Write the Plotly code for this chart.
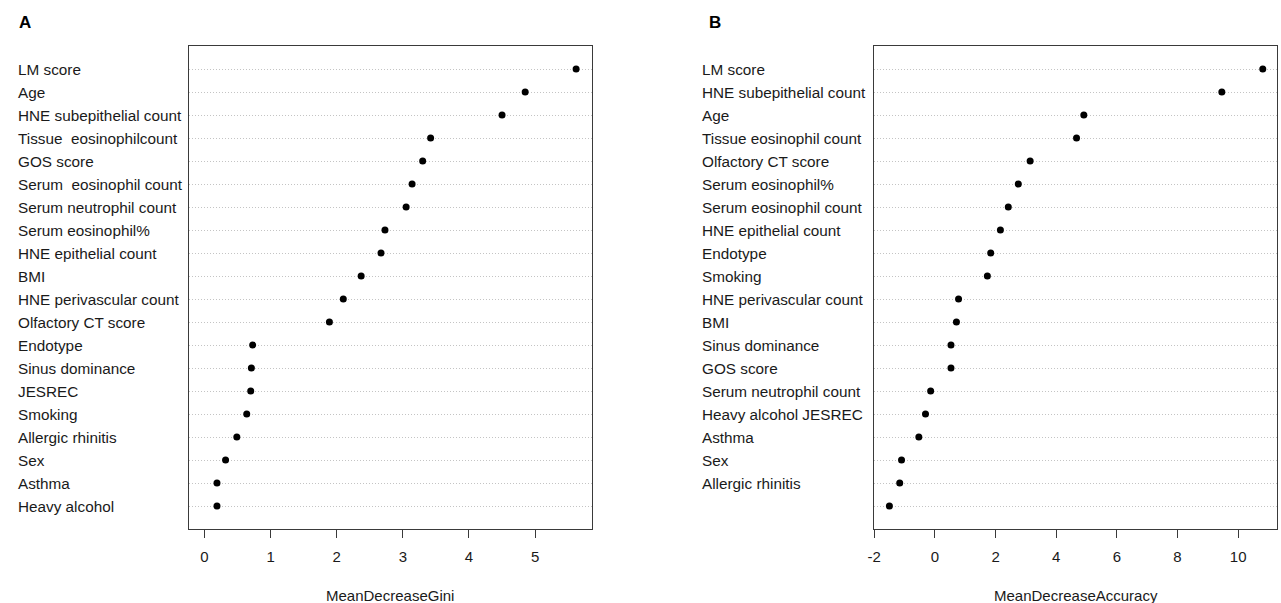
import plotly.graph_objects as go

# ---------------- data ----------------
labels_a = ["LM score", "Age", "HNE subepithelial count", "Tissue  eosinophilcount",
            "GOS score", "Serum  eosinophil count", "Serum neutrophil count",
            "Serum eosinophil%", "HNE epithelial count", "BMI", "HNE perivascular count",
            "Olfactory CT score", "Endotype", "Sinus dominance", "JESREC", "Smoking",
            "Allergic rhinitis", "Sex", "Asthma", "Heavy alcohol"]
gini = [5.62, 4.85, 4.50, 3.42, 3.30, 3.14, 3.05, 2.73, 2.67, 2.37, 2.10, 1.89,
        0.73, 0.71, 0.70, 0.64, 0.49, 0.32, 0.19, 0.19]

labels_b = ["LM score", "HNE subepithelial count", "Age", "Tissue eosinophil count",
            "Olfactory CT score", "Serum eosinophil%", "Serum eosinophil count",
            "HNE epithelial count", "Endotype", "Smoking", "HNE perivascular count", "BMI",
            "Sinus dominance", "GOS score", "Serum neutrophil count", "Heavy alcohol JESREC",
            "Asthma", "Sex", "Allergic rhinitis", ""]
accuracy = [10.81, 9.46, 4.91, 4.67, 3.14, 2.75, 2.42, 2.16, 1.84, 1.73, 0.78, 0.71,
            0.53, 0.53, -0.14, -0.31, -0.53, -1.10, -1.16, -1.50]

ticks_a = [0, 1, 2, 3, 4, 5]
ticks_b = [-2, 0, 2, 4, 6, 8, 10]
xtitle_a = "MeanDecreaseGini"
xtitle_b = "MeanDecreaseAccuracy"

# ---------------- figure ----------------
W, H = 1281, 603
FONT = "Liberation Sans, Arial, sans-serif"
TXT = "#1a1a1a"

def px(x):
    return min(1.0, max(0.0, x / W))

def py(y):
    return min(1.0, max(0.0, 1 - y / H))

def rank(labels):
    n = len(labels)
    return [n - i for i in range(n)]

fig = go.Figure()
fig.add_trace(go.Scatter(x=gini, y=rank(labels_a), mode="markers",
                         marker=dict(color="black", size=7), xaxis="x", yaxis="y",
                         showlegend=False, hoverinfo="x"))
fig.add_trace(go.Scatter(x=accuracy, y=rank(labels_b), mode="markers",
                         marker=dict(color="black", size=7), xaxis="x2", yaxis="y2",
                         showlegend=False, hoverinfo="x"))

ydom = [py(529), py(46)]
xdom_a = [px(183), px(588)]
xdom_b = [px(872), px(1277)]

common_x = dict(showline=True, mirror=True, linecolor="#3a3a3a", linewidth=1.2,
                ticks="outside", ticklen=8, tickcolor="#3a3a3a", showgrid=False,
                zeroline=False, tickfont=dict(size=15, color=TXT, family=FONT),
                ticklabelstandoff=6)
common_y = dict(showline=True, mirror=True, linecolor="#3a3a3a", linewidth=1.2,
                range=[0, 21], showticklabels=False, ticks="", showgrid=True,
                gridcolor="#c4c4c4", griddash="1px,2px", gridwidth=1, zeroline=False,
                domain=ydom)

fig.update_layout(
    width=W, height=H, autosize=False,
    margin=dict(l=0, r=0, t=0, b=0),
    paper_bgcolor="white", plot_bgcolor="white",
    font=dict(family=FONT, color=TXT),
    xaxis=dict(domain=xdom_a, range=[-0.233, 5.857], tickvals=ticks_a,
               ticktext=[str(t) for t in ticks_a], anchor="y", **common_x),
    yaxis=dict(anchor="x", tickvals=rank(labels_a), **common_y),
    xaxis2=dict(domain=xdom_b, range=[-2.0, 11.28], tickvals=ticks_b,
                ticktext=[str(t) for t in ticks_b], anchor="y2", **common_x),
    yaxis2=dict(anchor="x2", tickvals=rank(labels_b), **common_y),
)

LABEL_FONT = dict(size=15.3, color=TXT, family=FONT)
ann = []
for lab, yv in zip(labels_a, rank(labels_a)):
    ann.append(dict(text=lab, x=px(9), xref="paper", y=yv, yref="y", xanchor="left",
                    yanchor="middle", showarrow=False, font=LABEL_FONT))
for lab, yv in zip(labels_b, rank(labels_b)):
    if lab:
        ann.append(dict(text=lab, x=px(697), xref="paper", y=yv, yref="y2", xanchor="left",
                        yanchor="middle", showarrow=False, font=LABEL_FONT))
ann.append(dict(text=xtitle_a, x=0.5, xref="x domain", y=py(595), yref="paper",
                yanchor="middle", showarrow=False, font=dict(size=15, color=TXT, family=FONT)))
ann.append(dict(text=xtitle_b, x=0.5, xref="x2 domain", y=py(595), yref="paper",
                yanchor="middle", showarrow=False, font=dict(size=15, color=TXT, family=FONT)))
ann.append(dict(text="<b>A</b>", x=px(10), xref="paper", y=py(22), yref="paper",
                xanchor="left", yanchor="middle", showarrow=False,
                font=dict(size=17, color="black", family=FONT)))
ann.append(dict(text="<b>B</b>", x=px(704), xref="paper", y=py(22), yref="paper",
                xanchor="left", yanchor="middle", showarrow=False,
                font=dict(size=17, color="black", family=FONT)))
fig.update_layout(annotations=ann)

fig.write_html("out.html", config={"displayModeBar": False},
               post_script="document.body.style.margin='0';")
